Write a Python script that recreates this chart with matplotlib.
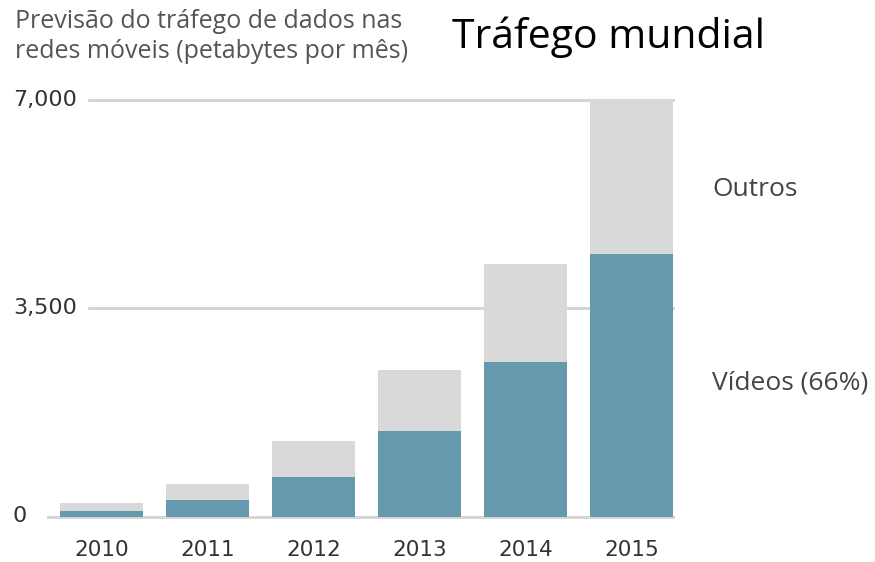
import matplotlib
matplotlib.use("Agg")
import matplotlib.pyplot as plt
import matplotlib.transforms as mtransforms

years = ["2010", "2011", "2012", "2013", "2014", "2015"]
videos = [100, 280, 670, 1440, 2590, 4420]
totals = [220, 540, 1270, 2460, 4240, 7000]
outros = [t - v for t, v in zip(totals, videos)]
ytick_values = [0, 3500, 7000]
ytick_labels = ["0", "3,500", "7,000"]

VIDEO_COLOR = "#6699ad"
OTHER_COLOR = "#d9d9d9"
GRID_COLOR = "#d3d3d3"

W, H = 875, 562
fig = plt.figure(figsize=(W / 100, H / 100), dpi=100)

# axes placed in pixel terms of the reference
left_px, right_px, top_px, base_px = 48, 673, 100, 516.5
ax = fig.add_axes([left_px / W, 1 - base_px / H,
                   (right_px - left_px) / W, (base_px - top_px) / H])

x = list(range(len(years)))
ax.bar(x, videos, width=0.78, color=VIDEO_COLOR, zorder=3)
ax.bar(x, outros, bottom=videos, width=0.78, color=OTHER_COLOR, zorder=3)

ax.set_xlim(-0.505, 5.39)
ax.set_ylim(0, 7000)

# grid lines start after the tick label
grid_start = (89 - left_px) / (right_px - left_px)
for v in ytick_values:
    if v == 0:
        ax.axhline(v, color=GRID_COLOR, lw=2, zorder=1, clip_on=False)
    else:
        ax.axhline(v, xmin=grid_start, color=GRID_COLOR, lw=2, zorder=1, clip_on=False)

for s in ax.spines.values():
    s.set_visible(False)
ax.set_yticks([])
ax.set_xticks(x)
ax.set_xticklabels(years, fontsize=15.5, color="#333333")
ax.tick_params(axis="x", length=0, pad=17)

# y labels at left edge of the figure
trans = mtransforms.blended_transform_factory(fig.transFigure, ax.transData)
for v, lab in zip(ytick_values, ytick_labels):
    ax.text(13 / W, v, lab, transform=trans, ha="left", va="center",
            fontsize=16, color="#333333")

fig.text(15 / W, 1 - 22 / H, "Previsão do tráfego de dados nas", family="Open Sans",
         fontsize=18, color="#555555", ha="left", va="center")
fig.text(15 / W, 1 - 52 / H, "redes móveis (petabytes por mês)", family="Open Sans",
         fontsize=18, color="#555555", ha="left", va="center")
fig.text(452 / W, 1 - 37 / H, "Tráfego mundial", family="Open Sans",
         fontsize=29.5, color="black", ha="left", va="center")

fig.text(712 / W, 1 - 190 / H, "Outros", family="Open Sans",
         fontsize=19, color="#444444", ha="left", va="center")
fig.text(712 / W, 1 - 383 / H, "Vídeos (66%)", family="Open Sans",
         fontsize=19, color="#444444", ha="left", va="center")

fig.savefig("out.png", dpi=100, facecolor="white")
